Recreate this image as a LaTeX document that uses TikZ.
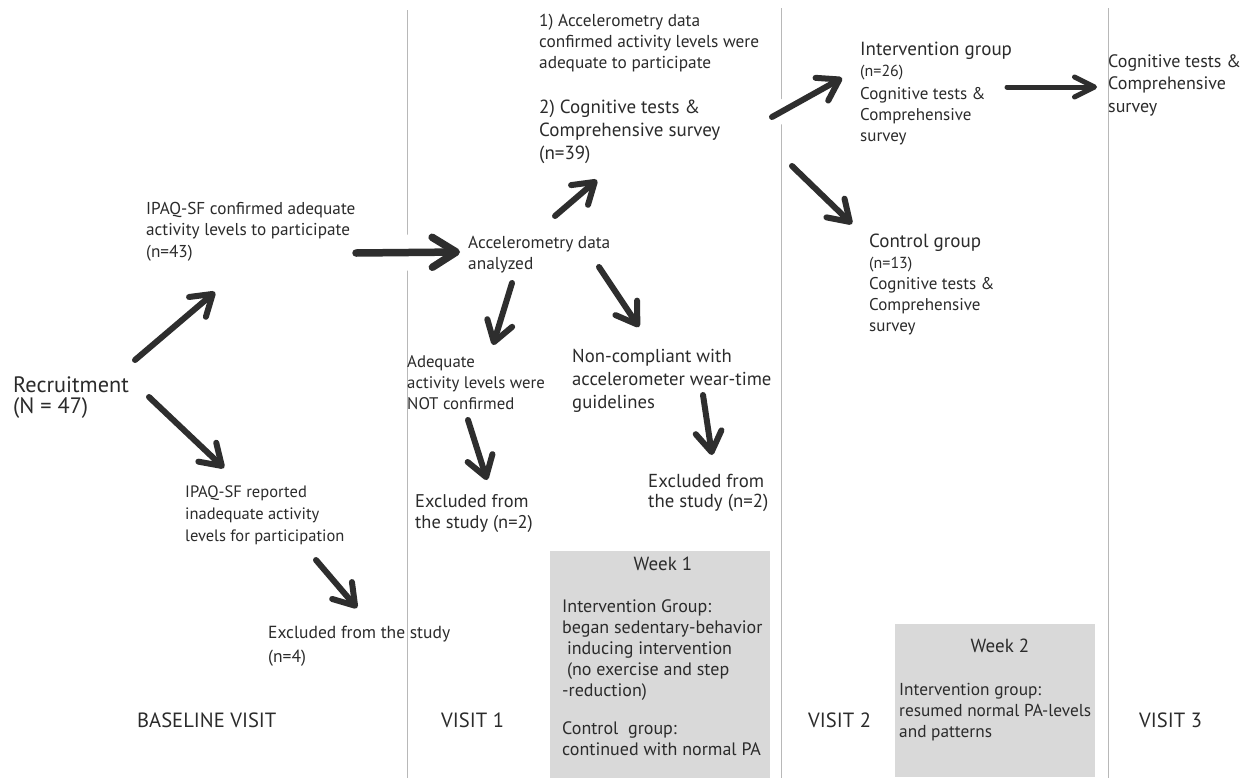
\documentclass[tikz,border=0pt]{standalone}
\usepackage{fontspec}
\setmainfont{PT Sans}
\usetikzlibrary{arrows.meta}
\definecolor{ink}{HTML}{2B2B2B}
\definecolor{arrowc}{HTML}{2E2E2E}
\definecolor{boxgray}{HTML}{D9D9D9}
\definecolor{rulec}{HTML}{B8B8B8}
\newcommand{\mlines}[1]{\begin{tabular}[t]{@{}l@{}}#1\end{tabular}}
\begin{document}
\begin{tikzpicture}[x=1pt,y=-1pt,
  txt/.style={inner sep=0pt, anchor=base west, text=ink,
    font=\fontsize{17.2}{21.5}\selectfont},
  visit/.style={inner sep=0pt, anchor=base west, text=ink,
    font=\fontsize{20.6}{24}\selectfont},
  title/.style={inner sep=0pt, anchor=base, text=ink,
    font=\fontsize{19}{23}\selectfont},
  weekbox/.style={fill=boxgray, draw=none},
  sep/.style={draw=rulec, line width=1pt},
  halo/.style={draw=white, line width=#1},
  arr/.style={draw=arrowc, line width=6pt, line cap=round,
    -{Straight Barb[length=20pt, width=26pt, round]}},
  bigarr/.style={arr, line width=7.5pt,
    -{Straight Barb[length=24pt, width=30pt, round]}},
  smallarr/.style={arr, line width=5pt,
    -{Straight Barb[length=20pt, width=20pt, round]}}
]
\useasboundingbox[fill=white] (0,0) rectangle (1255,782);

% separators
\draw[sep] (407,10) -- (407,778);
\draw[sep] (781,8) -- (781,778);
\draw[sep] (1108,8) -- (1108,778);

% grey boxes
\node[weekbox, inner sep=0pt, anchor=north west, minimum width=220pt, minimum height=227pt] (wk1) at (550,551) {};
\node[weekbox, inner sep=0pt, anchor=north west, minimum width=200pt, minimum height=153pt] (wk2) at (895,624) {};

% texts
\node[txt, font=\fontsize{22.3}{20}\selectfont] (recruit) at (13,392) {\mlines{Recruitment\\(N = 47)}};
\node[txt] (ipaqok) at (146,214) {\mlines{IPAQ-SF confirmed adequate\\activity levels to participate\\(n=43)}};
\node[txt, font=\fontsize{16.5}{22}\selectfont] (ipaqno) at (185,497) {\mlines{IPAQ-SF reported\\inadequate activity\\levels for participation}};
\node[txt, font=\fontsize{17.5}{24}\selectfont] (excl0) at (268,638) {\mlines{Excluded from the study\\(n=4)}};
\node[txt, font=\fontsize{17.3}{21}\selectfont] (accel) at (468,248) {\mlines{Accelerometry data\\analyzed}};
\node[txt, font=\fontsize{17.3}{21}\selectfont] (conf) at (539,26) {\mlines{1) Accelerometry data\\confirmed activity levels were\\adequate to participate}};
\node[txt, font=\fontsize{19}{23}\selectfont] (cog) at (539,113) {\mlines{2) Cognitive tests \&\\Comprehensive survey\\(n=39)}};
\node[txt, font=\fontsize{16.8}{21}\selectfont] (notconf) at (407,367) {\mlines{Adequate\\activity levels were\\NOT confirmed}};
\node[txt, font=\fontsize{18.4}{21.5}\selectfont] (excl1) at (415,507) {\mlines{Excluded from\\the study (n=2)}};
\node[txt, font=\fontsize{18.7}{23}\selectfont] (noncomp) at (572,362) {\mlines{Non-compliant with\\accelerometer wear-time\\guidelines}};
\node[txt, font=\fontsize{18.8}{20.5}\selectfont] (excl2) at (648,487) {\mlines{Excluded from\\the study (n=2)}};
\node[txt, font=\fontsize{17}{21}\selectfont] (intv) at (860,55) {\mlines{{\fontsize{19}{21}\selectfont Intervention group}\\{\fontsize{16}{21}\selectfont (n=26)}\\[2pt]Cognitive tests \&\\Comprehensive\\survey}};
\node[txt, font=\fontsize{17}{21}\selectfont] (ctrl) at (869,247) {\mlines{{\fontsize{19}{21}\selectfont Control group}\\{\fontsize{16}{21}\selectfont (n=13)}\\Cognitive tests \&\\Comprehensive\\survey}};
\node[txt, font=\fontsize{18}{22.5}\selectfont] (cog3) at (1108,67) {\mlines{Cognitive tests \&\\Comprehensive\\survey}};

% week boxes text
\node[title] (wk1t) at (663,570) {Week 1};
\node[txt, font=\fontsize{18}{21}\selectfont] (wk1b) at (562,612) {\mlines{Intervention Group:\\began sedentary-behavior\\\ inducing intervention\\\ (no exercise and step\\-reduction)\\[17pt]Control\ \ group:\\continued with normal PA}};
\node[title] (wk2t) at (1000,652) {Week 2};
\node[txt, font=\fontsize{17.3}{21}\selectfont] (wk2b) at (899,695) {\mlines{Intervention group:\\resumed normal PA-levels\\and patterns}};

% visit labels
\node[visit] (v0) at (137,727) {BASELINE VISIT};
\node[visit] (v1) at (441,727) {VISIT 1};
\node[visit] (v2) at (808,727) {VISIT 2};
\node[visit] (v3) at (1139,727) {VISIT 3};

% arrow end points
\coordinate (a1s) at (135,360); \coordinate (a1e) at (215,292);
\coordinate (a2s) at (149,397); \coordinate (a2e) at (224,468);
\coordinate (a3s) at (356,253); \coordinate (a3e) at (460,252);
\coordinate (a4s) at (555,216); \coordinate (a4e) at (597,180);
\coordinate (a5s) at (512,283); \coordinate (a5e) at (493,345);
\coordinate (a6s) at (599,267); \coordinate (a6e) at (639,327);
\coordinate (a7s) at (468,420); \coordinate (a7e) at (487,480);
\coordinate (a8s) at (703,395); \coordinate (a8e) at (712,455);
\coordinate (a9s) at (316,560); \coordinate (a9e) at (357,608);
\coordinate (a10s) at (772,117); \coordinate (a10e) at (842,78);
\coordinate (a11s) at (792,166); \coordinate (a11e) at (852,224);
\coordinate (a12s) at (1007,87); \coordinate (a12e) at (1097,87);

% halos where arrows cross separators
\draw[halo=36pt] (a3s) -- (a3e);
\draw[halo=22pt] (a10s) -- (a10e);

% arrows
\draw[arr] (a1s) -- (a1e);
\draw[arr] (a2s) -- (a2e);
\draw[bigarr] (a3s) -- (a3e);
\draw[arr] (a4s) -- (a4e);
\draw[arr] (a5s) -- (a5e);
\draw[arr] (a6s) -- (a6e);
\draw[arr] (a7s) -- (a7e);
\draw[arr] (a8s) -- (a8e);
\draw[arr] (a9s) -- (a9e);
\draw[arr] (a10s) -- (a10e);
\draw[arr] (a11s) -- (a11e);
\draw[smallarr] (a12s) -- (a12e);
\end{tikzpicture}
\end{document}
